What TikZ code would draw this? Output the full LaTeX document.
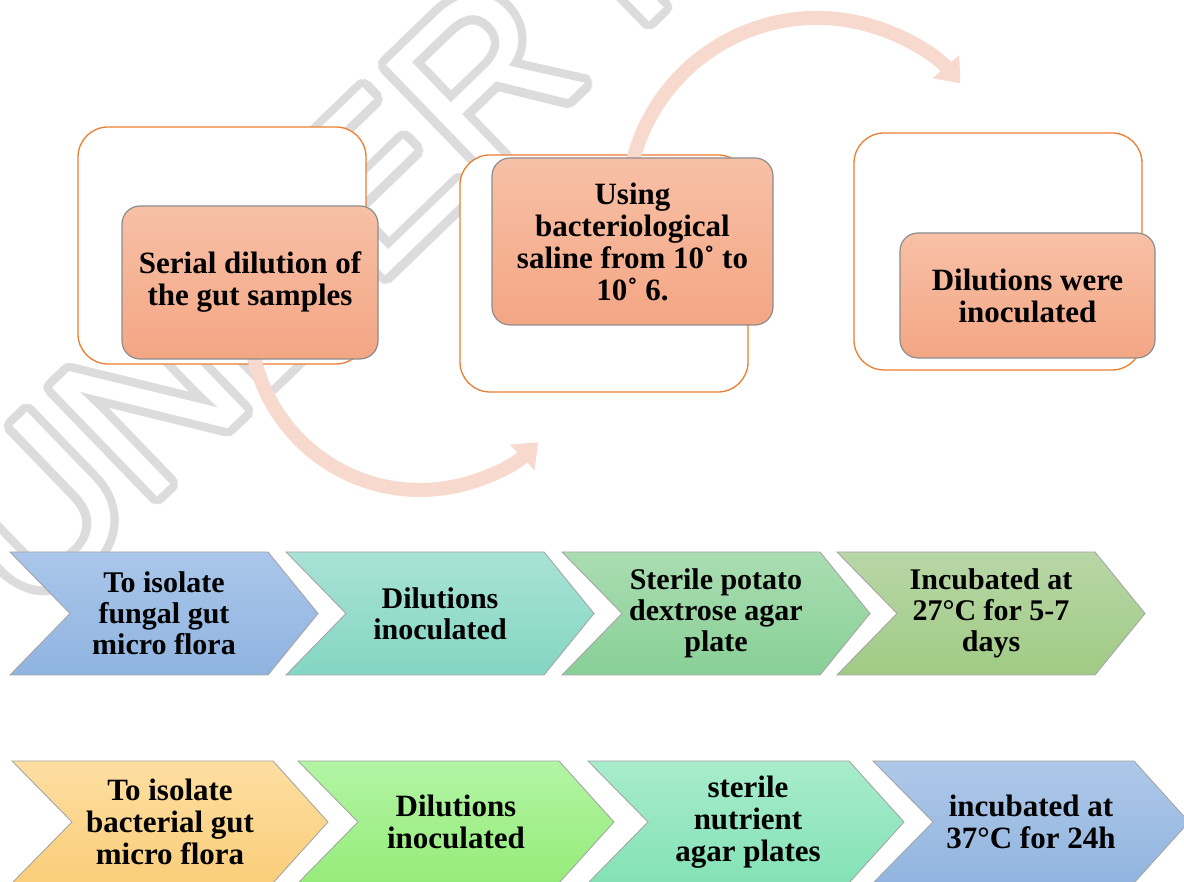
\documentclass[tikz,border=0pt]{standalone}
\usepackage{fontspec}
\setmainfont{Liberation Serif}
\newfontfamily\markfont{Liberation Sans}
\usepackage[copies]{contour}
\contourlength{8.5pt}
\contournumber{28}
\usetikzlibrary{arrows.meta}

\definecolor{boxedge}{RGB}{237,125,49}
\definecolor{salmontop}{RGB}{247,192,166}
\definecolor{salmonbot}{RGB}{244,166,132}
\definecolor{bendcol}{RGB}{248,217,206}
\definecolor{markgray}{RGB}{220,220,220}
\definecolor{fatop}{RGB}{170,198,234}
\definecolor{fabot}{RGB}{143,180,224}
\definecolor{fbtop}{RGB}{168,226,214}
\definecolor{fbbot}{RGB}{132,214,195}
\definecolor{fctop}{RGB}{170,221,178}
\definecolor{fcbot}{RGB}{136,208,150}
\definecolor{fdtop}{RGB}{184,214,166}
\definecolor{fdbot}{RGB}{160,203,133}
\definecolor{batop}{RGB}{253,222,162}
\definecolor{babot}{RGB}{250,206,122}
\definecolor{bbtop}{RGB}{178,245,164}
\definecolor{bbbot}{RGB}{150,236,122}
\definecolor{bctop}{RGB}{168,236,204}
\definecolor{bcbot}{RGB}{132,226,182}
\definecolor{bdtop}{RGB}{175,200,233}
\definecolor{bdbot}{RGB}{145,181,223}

\tikzset{
	outerbox/.style={draw=boxedge, line width=1.3pt, fill=white, rounded corners=30pt, inner sep=0pt},
	stepbox/.style={draw=black!45, line width=1.2pt, rounded corners=18pt, top color=salmontop, bottom color=salmonbot, align=center, inner sep=0pt, font=\bfseries\fontsize{31}{32}\selectfont},
	bendarrow/.style={draw=bendcol, line width=14pt, -{Triangle[length=22pt,width=34pt]}},
	chevron/.style={draw=black!35, line width=0.9pt},
	chevtext/.style={align=center, font=\bfseries\fontsize{30}{31}\selectfont},
}

\begin{document}
\begin{tikzpicture}[x=1pt,y=1pt]
				\useasboundingbox (0,0) rectangle (1184,882);
				
				% Watermark behind everything
				\node[rotate=44, anchor=base west, text=white, inner sep=0pt] (mark) at (30,262)
					{\markfont\fontsize{220}{220}\selectfont\contour{markgray}{UNDER PEER REVIEW}};
				
				% Frames of the three steps
				\node[outerbox, minimum width=288pt, minimum height=237pt] (serialframe) at (222,636.5) {};
				\node[outerbox, minimum width=288pt, minimum height=237pt] (salineframe) at (604,608.5) {};
				\node[outerbox, minimum width=288pt, minimum height=237pt] (inocframe) at (998,630.5) {};
				
				% Bent arrows between the steps
				\coordinate (serialout) at (252.6,532.5);
				\coordinate (salineout) at (632.6,720);
				\draw[bendarrow] (serialout) arc[start angle=190, end angle=314, radius=170pt];
				\draw[bendarrow] (salineout) arc[start angle=166, end angle=41, radius=190pt];
				
				% Steps
				\node[stepbox, minimum width=256pt, minimum height=153pt] (serial) at (250,599.5) {Serial dilution of\\the gut samples};
				\node[stepbox, minimum width=281pt, minimum height=167pt] (saline) at (632.5,640.5) {Using\\bacteriological\\saline from 10˚ to\\10˚ 6.};
				\node[stepbox, minimum width=255pt, minimum height=125pt] (inoc) at (1027.5,586.5) {Dilutions were\\inoculated};
				
				% Fungal row
				\path[chevron, top color=fatop, bottom color=fabot] (10,330) -- ++(258,0) -- ++(50,-61.5) -- ++(-50,-61.5) -- ++(-258,0) -- ++(60,61.5) -- cycle;
				\path[chevron, top color=fbtop, bottom color=fbbot] (286,330) -- ++(258,0) -- ++(50,-61.5) -- ++(-50,-61.5) -- ++(-258,0) -- ++(60,61.5) -- cycle;
				\path[chevron, top color=fctop, bottom color=fcbot] (562,330) -- ++(258,0) -- ++(50,-61.5) -- ++(-50,-61.5) -- ++(-258,0) -- ++(60,61.5) -- cycle;
				\path[chevron, top color=fdtop, bottom color=fdbot] (837,330) -- ++(258,0) -- ++(50,-61.5) -- ++(-50,-61.5) -- ++(-258,0) -- ++(60,61.5) -- cycle;
				\node[chevtext] (fungal) at (164,268.5) {To isolate\\fungal gut\\micro flora};
				\node[chevtext] (fdil) at (440,268.5) {Dilutions\\inoculated};
				\node[chevtext] (potato) at (716,268.5) {Sterile potato\\dextrose agar\\plate};
				\node[chevtext] (fincub) at (991,268.5) {Incubated at\\27°C for 5-7\\days};
				
				% Bacterial row
				\path[chevron, top color=batop, bottom color=babot] (12,121) -- ++(261,0) -- ++(55,-61) -- ++(-55,-61) -- ++(-261,0) -- ++(60,61) -- cycle;
				\path[chevron, top color=bbtop, bottom color=bbbot] (298,121) -- ++(261,0) -- ++(55,-61) -- ++(-55,-61) -- ++(-261,0) -- ++(60,61) -- cycle;
				\path[chevron, top color=bctop, bottom color=bcbot] (588,121) -- ++(261,0) -- ++(55,-61) -- ++(-55,-61) -- ++(-261,0) -- ++(60,61) -- cycle;
				\path[chevron, top color=bdtop, bottom color=bdbot] (873,121) -- ++(261,0) -- ++(55,-61) -- ++(-55,-61) -- ++(-261,0) -- ++(60,61) -- cycle;
				\node[chevtext, font=\bfseries\fontsize{31}{32}\selectfont] (bacterial) at (170,60) {To isolate\\bacterial gut\\micro flora};
				\node[chevtext, font=\bfseries\fontsize{31}{32}\selectfont] (bdil) at (456,60) {Dilutions\\inoculated};
				\node[chevtext, font=\bfseries\fontsize{31}{32}\selectfont] (nutrient) at (748,60) {sterile\\nutrient\\agar plates};
				\node[chevtext, font=\bfseries\fontsize{31}{32}\selectfont] (bincub) at (1031,60) {incubated at\\37°C for 24h};
			\end{tikzpicture}
\end{document}
